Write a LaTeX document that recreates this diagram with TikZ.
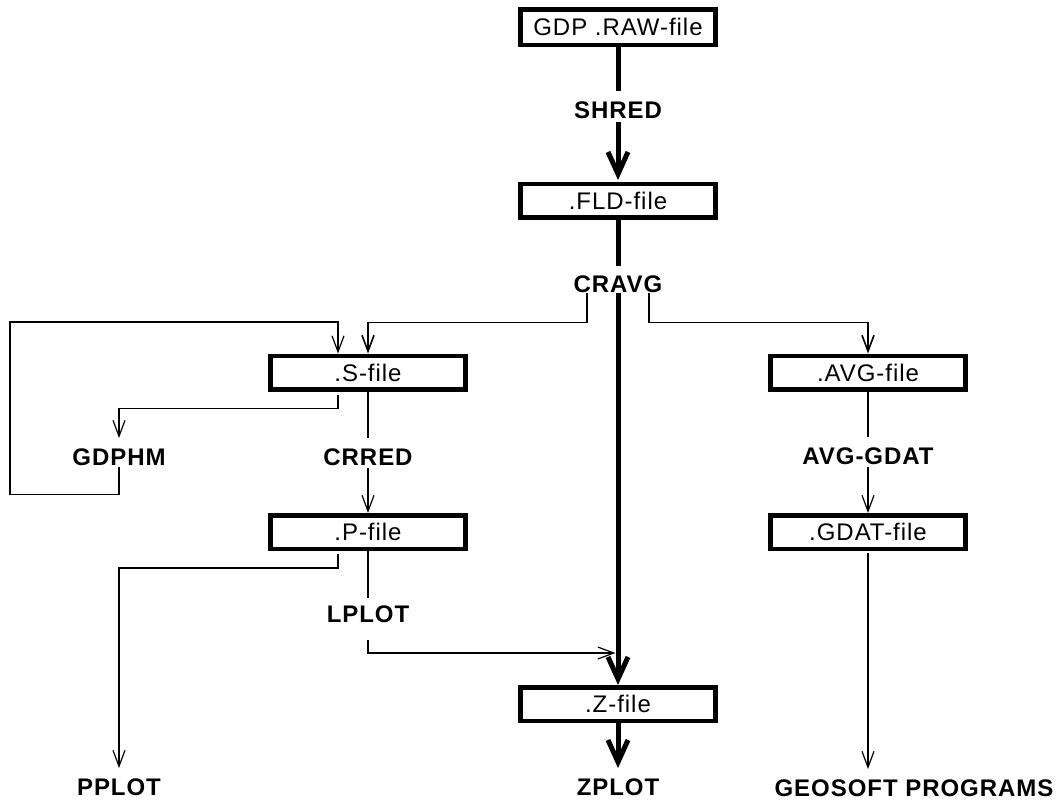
\documentclass[tikz,border=0pt]{standalone}
\usepackage{fontspec}
\setmainfont{Liberation Sans}[LetterSpace=4]
\usetikzlibrary{arrows.meta}
\begin{document}
\begin{tikzpicture}[x=1pt,y=-1pt,
  filebox/.style={draw, line width=4.5pt, minimum width=195pt, minimum height=33.5pt,
    inner sep=0pt, font=\fontsize{24}{28}\selectfont},
  lbl/.style={inner sep=0pt, anchor=base, font=\fontsize{24}{28}\selectfont\bfseries},
  thickline/.style={line width=5pt},
  thickarrow/.style={line width=5pt, -{Straight Barb[length=22pt,width=20pt]}},
  midline/.style={line width=1.8pt},
  midarrow/.style={line width=1.6pt, -{Straight Barb[length=16pt,width=12pt]}},
  thinarrow/.style={line width=1.2pt, -{Straight Barb[length=16pt,width=12pt]}}
]
\useasboundingbox (0,0) rectangle (1061,803);

% file boxes
\node[filebox, minimum height=35.5pt] (raw) at (618,27) {GDP .RAW-file};
\node[filebox] (fld)   at (618,200.5) {.FLD-file};
\node[filebox] (sfile) at (368,372.5) {.S-file};
\node[filebox] (avg)   at (868,372.5) {.AVG-file};
\node[filebox] (pfile) at (368,532) {.P-file};
\node[filebox] (gdat)  at (868,532) {.GDAT-file};
\node[filebox] (zfile) at (618,704) {.Z-file};

% program labels
\node[lbl] (shred)   at (618,118) {SHRED};
\node[lbl] (cravg)   at (618,292) {CRAVG};
\node[lbl] (gdphm)   at (119,465) {GDPHM};
\node[lbl] (crred)   at (368,465) {CRRED};
\node[lbl] (avggdat) at (868,464) {AVG-GDAT};
\node[lbl] (lplot)   at (368,622) {LPLOT};
\node[lbl] (pplot)   at (119,795) {PPLOT};
\node[lbl] (zplot)   at (618,795) {ZPLOT};
\node[lbl] (geosoft) at (914,796) {GEOSOFT PROGRAMS};

\coordinate (loopcorner) at (10,322);
\coordinate (lpend) at (615.5,653);

% main thick chain
\draw[thickline, shorten >=10pt] (raw.south) -- (shred.north);
\draw[thickarrow, shorten <=4pt, shorten >=1.5pt] (shred.south) -- (fld.north);
\draw[thickline, shorten >=9pt] (fld.south) -- (cravg.north);
\draw[thickarrow, shorten <=1pt] (cravg.south) -- (zfile.north);
\draw[thickarrow, shorten >=10pt] (zfile.south) -- (zplot.north);

% CRAVG branches
\draw[midarrow, shorten <=1pt] ([xshift=-31pt]cravg.south) -- ++(0,30) -| (sfile.north);
\draw[midarrow, shorten <=1pt] ([xshift=31pt]cravg.south) -- ++(0,30) -| (avg.north);

% S-file
\draw[midline, shorten >=10pt] (sfile.south) -- (crred.north);
\draw[thinarrow, shorten <=3pt] (crred.south) -- (pfile.north);
\draw[thinarrow, shorten <=3pt, shorten >=10pt] ([xshift=-30pt]sfile.south) -- ++(0,17) -| (gdphm.north);
\draw[thinarrow, shorten <=2pt] (gdphm.south) -- ++(0,29) -| (loopcorner) -| ([xshift=-30pt]sfile.north);

% P-file
\draw[midline, shorten >=7pt] (pfile.south) -- (lplot.north);
\draw[thinarrow, shorten <=18pt] (lplot.south) |- (lpend);
\draw[thinarrow, shorten <=3pt, shorten >=10pt] ([xshift=-30pt]pfile.south) -- ++(0,17) -| (pplot.north);

% AVG branch
\draw[midline, shorten >=10pt] (avg.south) -- (avggdat.north);
\draw[thinarrow, shorten <=3pt] (avggdat.south) -- (gdat.north);
\draw[thinarrow, shorten <=2pt, shorten >=10pt] (gdat.south) -- (gdat.south |- geosoft.north);
\end{tikzpicture}
\end{document}
